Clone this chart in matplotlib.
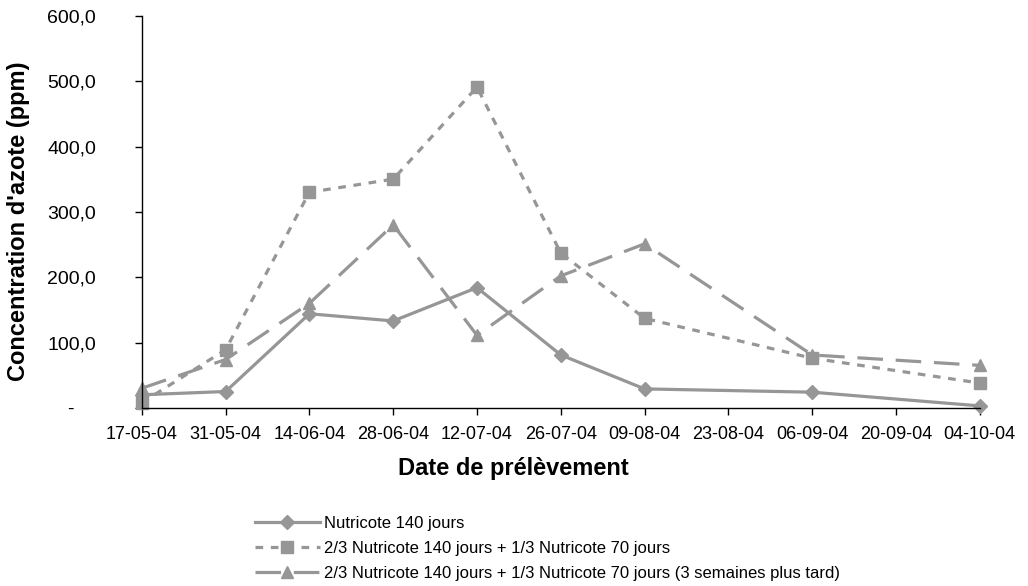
"""
Concentration d'azote selon la date de prélèvement.
"""

import datetime as dt

import matplotlib
matplotlib.use("Agg")
import matplotlib.pyplot as plt
import matplotlib.dates as mdates
from matplotlib.ticker import FuncFormatter

plt.rcParams['font.family'] = ['Liberation Sans', 'DejaVu Sans']

# Data
sample_dates = ['17-05-04', '31-05-04', '14-06-04', '28-06-04', '12-07-04',
                '26-07-04', '09-08-04', '06-09-04', '04-10-04']
nutricote_140 = [20, 25, 144, 133, 184, 81, 29, 24, 3]
mix_70 = [8, 89, 330, 350, 491, 237, 137, 76, 38]
mix_70_late = [30, 74, 160, 280, 111, 202, 251, 81, 65]

labels = ['Nutricote 140 jours',
          '2/3 Nutricote 140 jours + 1/3 Nutricote 70 jours',
          '2/3 Nutricote 140 jours + 1/3 Nutricote 70 jours (3 semaines plus tard)']

dates = [dt.datetime.strptime(d, '%d-%m-%y') for d in sample_dates]
tick_dates = [dates[0] + dt.timedelta(days=14 * i) for i in range(11)]

grey = '#969696'


def y_fmt(v, pos):
    # Excel style: 100,0 and a dash for zero
    if v == 0:
        return '-    '
    return f'{v:.1f}'.replace('.', ',')


fig = plt.figure(figsize=(10.28, 5.86), dpi=100)
ax = fig.add_axes([0.138, 0.304, 0.815, 0.669])

ax.plot(dates, nutricote_140, color=grey, linewidth=2.3, marker='D',
        markersize=7, label=labels[0])
ax.plot(dates, mix_70, color=grey, linewidth=2.3, marker='s', markersize=8.5,
        dashes=(2.4, 2.4), label=labels[1])
ax.plot(dates, mix_70_late, color=grey, linewidth=2.3, marker='^',
        markersize=9, dashes=(8, 4), label=labels[2])

ax.set_xlim(tick_dates[0], tick_dates[-1])
ax.set_xticks(tick_dates)
ax.xaxis.set_major_formatter(mdates.DateFormatter('%d-%m-%y'))
ax.set_ylim(0, 600)
ax.set_yticks(range(0, 601, 100))
ax.yaxis.set_major_formatter(FuncFormatter(y_fmt))

for side in ('top', 'right'):
    ax.spines[side].set_visible(False)
for side in ('left', 'bottom'):
    ax.spines[side].set_linewidth(1.0)

ax.tick_params(axis='both', direction='out', length=5, width=1,
               colors='black')
ax.tick_params(axis='x', pad=8, labelsize=13)
ax.tick_params(axis='y', pad=28, labelsize=14)

ax.set_xlabel('Date de prélèvement', fontsize=17, fontweight='bold', va='top')
ax.set_ylabel("Concentration d'azote (ppm)", fontsize=17, fontweight='bold')
ax.xaxis.set_label_coords(0.443, -0.125)
ax.yaxis.set_label_coords(-0.134, 0.477)

for line in ax.get_lines():
    line.set_clip_on(False)

fig.legend(loc='upper left', bbox_to_anchor=(0.248, 0.12),
           bbox_transform=fig.transFigure, frameon=False, fontsize=12,
           handlelength=3.9, handletextpad=0.25, labelspacing=0.6,
           borderaxespad=0, borderpad=0)

fig.savefig('out.png', dpi=100)
